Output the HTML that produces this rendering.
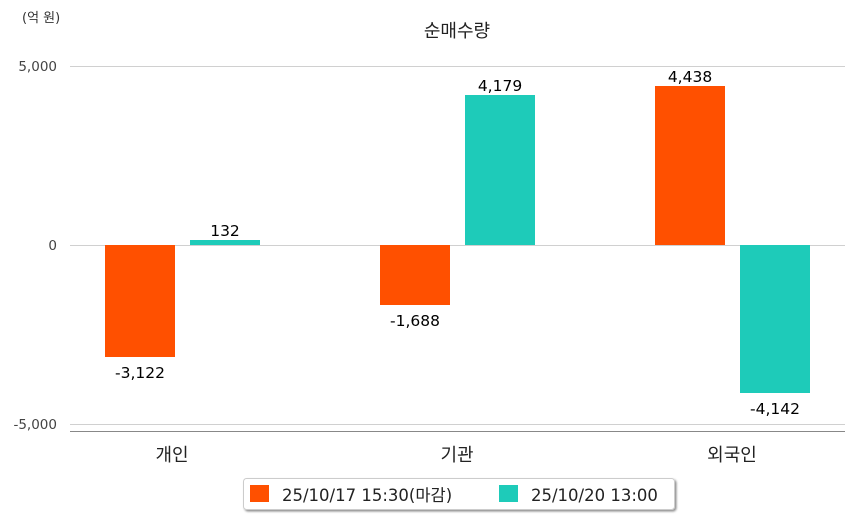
<!DOCTYPE html>
<html><head><meta charset="utf-8"><style>body{margin:0;background:#fff}svg{display:block}text{font-family:"DejaVu Sans","Noto Sans CJK KR",sans-serif}</style></head><body>
<svg width="854" height="520" viewBox="0 0 854 520">
<defs><filter id="sh" x="-5%" y="-20%" width="110%" height="150%"><feDropShadow dx="1.5" dy="1.5" stdDeviation="1" flood-color="#000" flood-opacity="0.45"/></filter></defs>
<text x="22" y="22" font-size="13" fill="#333">(억 원)</text>
<text x="457" y="37" font-size="18" fill="#222" text-anchor="middle">순매수량</text>
<g stroke="#d0d0d0" stroke-width="1">
<line x1="70" y1="66.5" x2="845" y2="66.5"/><line x1="70" y1="245.5" x2="845" y2="245.5"/><line x1="70" y1="424.5" x2="845" y2="424.5"/></g>
<line x1="70" y1="431.5" x2="845" y2="431.5" stroke="#888" stroke-width="1"/>
<g font-size="13.5" fill="#444" text-anchor="end">
<text x="57" y="71">5,000</text><text x="57" y="250">0</text><text x="57" y="429">-5,000</text></g>
<g fill="#ff5000"><rect x="105" y="245" width="70" height="112"/><rect x="380" y="245" width="70" height="60"/><rect x="655" y="86" width="70" height="159"/></g>
<g fill="#1ecbb9"><rect x="190" y="240" width="70" height="5"/><rect x="465" y="95" width="70" height="150"/><rect x="740" y="245" width="70" height="148"/></g>
<g font-size="15.5" fill="#000" text-anchor="middle">
<text x="140" y="378">-3,122</text><text x="225" y="236">132</text>
<text x="415" y="326">-1,688</text><text x="500" y="91">4,179</text>
<text x="690" y="82">4,438</text><text x="775" y="414">-4,142</text></g>
<g font-size="18" fill="#222" text-anchor="middle">
<text x="172" y="461">개인</text><text x="457" y="461">기관</text><text x="732" y="461">외국인</text></g>
<rect x="243.5" y="478.5" width="431" height="31" rx="3" fill="#fff" stroke="#ccc" filter="url(#sh)"/>
<rect x="250" y="485" width="19" height="17" fill="#ff5000"/>
<text x="282" y="501" font-size="16.5" fill="#222">25/10/17 15:30(마감)</text>
<rect x="499" y="485" width="19" height="17" fill="#1ecbb9"/>
<text x="531" y="501" font-size="16.5" fill="#222">25/10/20 13:00</text>
</svg>
</body></html>
